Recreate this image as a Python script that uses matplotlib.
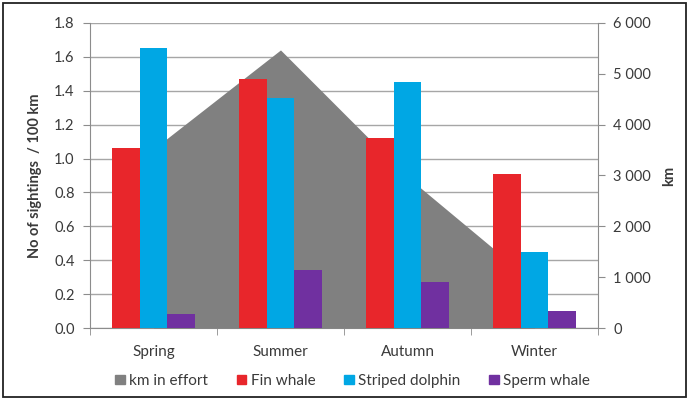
import matplotlib
matplotlib.use("Agg")
import matplotlib.pyplot as plt
from matplotlib.patches import Rectangle, Patch
import numpy as np

seasons = ["Spring", "Summer", "Autumn", "Winter"]
km_effort = [3520, 5470, 2970, 890]
fin_whale = [1.06, 1.47, 1.12, 0.91]
striped_dolphin = [1.65, 1.36, 1.45, 0.45]
sperm_whale = [0.08, 0.34, 0.27, 0.10]
left_ticks = [0.0, 0.2, 0.4, 0.6, 0.8, 1.0, 1.2, 1.4, 1.6, 1.8]
right_ticks = [0, 1000, 2000, 3000, 4000, 5000, 6000]
right_labels = ["0", "1 000", "2 000", "3 000", "4 000", "5 000", "6 000"]

RED = "#E8262B"
BLUE = "#00A7E4"
PURPLE = "#7030A0"
GRAY = "#808080"
TXT = "#3a3a3a"
AX = "#8c8c8c"

plt.rcParams["font.family"] = ["Lato", "DejaVu Sans"]
plt.rcParams["font.size"] = 10.5

fig = plt.figure(figsize=(6.89, 4.0), dpi=100)
pos = [90 / 689, 1 - 328 / 400, (598 - 90) / 689, (328 - 23) / 400]

ax = fig.add_axes(pos)
ax2 = ax.twinx()
ax3 = fig.add_axes(pos, sharex=ax, sharey=ax)

ax.set_zorder(0)
ax2.set_zorder(1)
ax3.set_zorder(2)
ax2.patch.set_visible(False)
ax3.patch.set_visible(False)

x = np.arange(len(seasons))

# gridlines and left axis
ax.set_xlim(-0.5, 3.5)
ax.set_ylim(0, 1.8)
ax.set_yticks(left_ticks)
ax.set_yticklabels([f"{v:.1f}" for v in left_ticks], color=TXT)
ax.yaxis.grid(True, color="#a6a6a6", linewidth=1.0)
ax.set_xticks(x)
ax.set_xticklabels(seasons, color=TXT, fontsize=11)
ax.set_xticks(np.arange(-0.5, 3.6, 1.0), minor=True)
ax.tick_params(axis="x", which="major", length=0, pad=12)
ax.tick_params(axis="x", which="minor", length=5, color=AX, direction="out")
ax.tick_params(axis="y", length=5, color=AX, pad=6)
for s in ["top", "right"]:
    ax.spines[s].set_visible(False)
for s in ["left", "bottom"]:
    ax.spines[s].set_color(AX)
ax.set_ylabel("No of sightings  / 100 km", fontweight="bold", color=TXT,
              labelpad=9, fontsize=10.5)

# area on secondary axis
ax2.fill_between(x, 0, km_effort, color=GRAY, linewidth=0)
ax2.set_ylim(0, 6000)
ax2.set_yticks(right_ticks)
ax2.set_yticklabels(right_labels, color=TXT)
ax2.tick_params(axis="y", length=5, color=AX, pad=6)
for s in ["top", "left", "bottom"]:
    ax2.spines[s].set_visible(False)
ax2.spines["right"].set_color(AX)
ax2.set_ylabel("km", fontweight="bold", color=TXT, labelpad=8)

# bars on top
w = 0.218
ax3.bar(x - w, fin_whale, w, color=RED)
ax3.bar(x, striped_dolphin, w, color=BLUE)
ax3.bar(x + w, sperm_whale, w, color=PURPLE)
ax3.axis("off")

handles = [Patch(color=GRAY), Patch(color=RED), Patch(color=BLUE), Patch(color=PURPLE)]
labels = ["km in effort", "Fin whale", "Striped dolphin", "Sperm whale"]
fig.legend(handles, labels, loc="center", bbox_to_anchor=(0.512, 0.048), ncol=4,
           frameon=False, handlelength=0.6, handleheight=0.6, handletextpad=0.3,
           columnspacing=1.9, labelcolor=TXT, fontsize=11)

fig.patches.append(Rectangle((3 / 689, 3 / 400), 683 / 689, 394 / 400,
                             transform=fig.transFigure, fill=False,
                             edgecolor="#222222", linewidth=1.3))

fig.savefig("out.png", dpi=100)
